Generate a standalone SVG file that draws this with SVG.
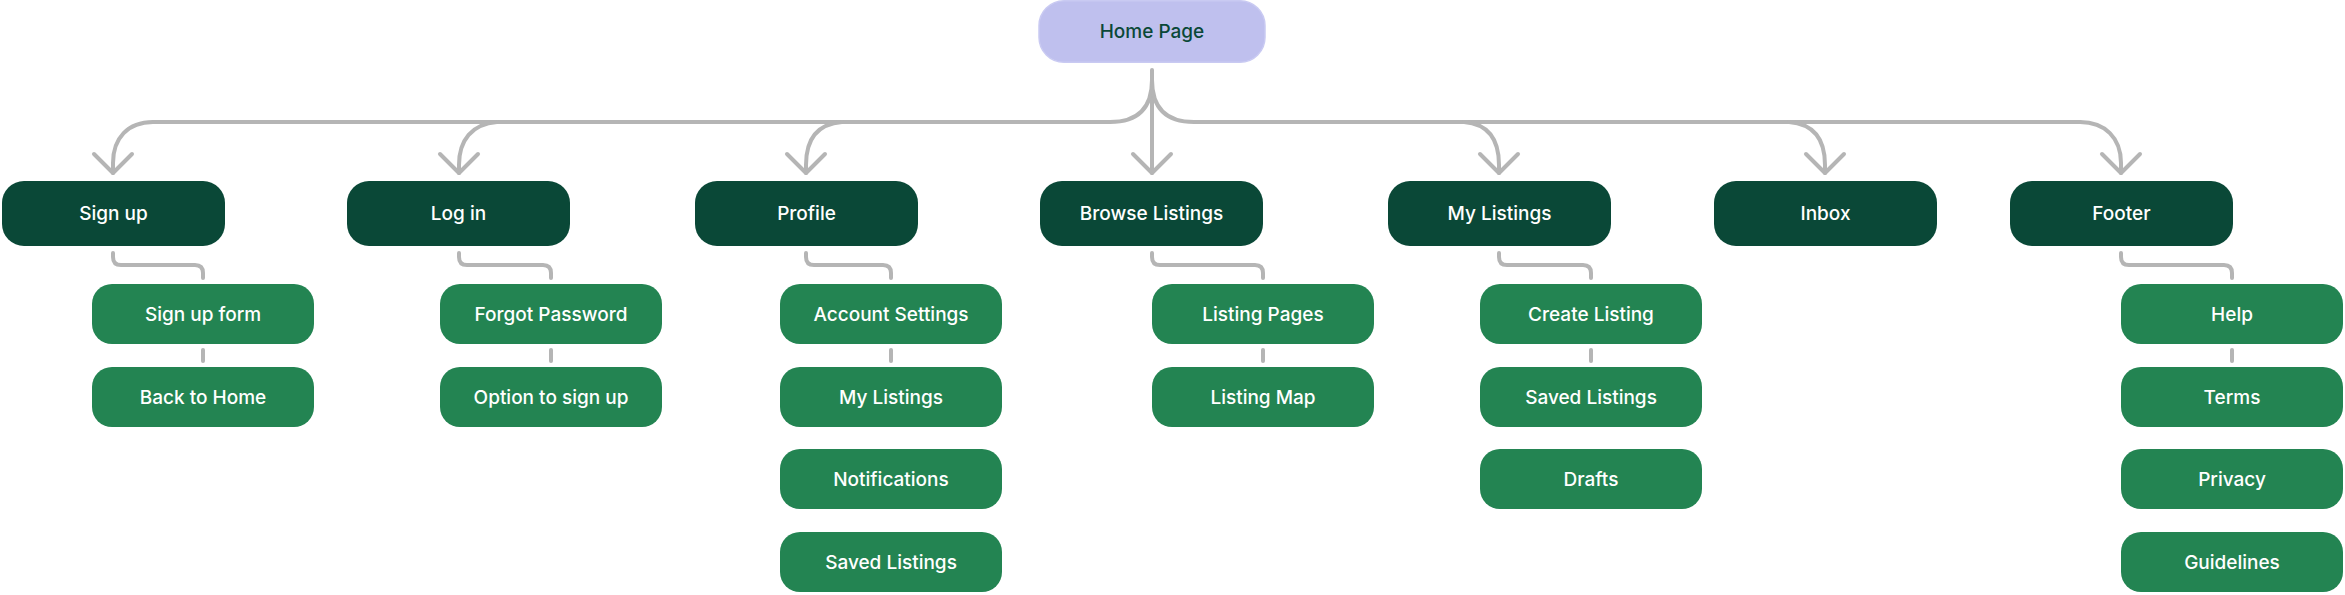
<svg xmlns="http://www.w3.org/2000/svg" width="2345" height="595" viewBox="0 0 2345 595">
<defs>
<style>
.home{fill:#bfc0ee;stroke:#c9caf2;stroke-width:1.5}
.top{fill:#0a4837}
.child{fill:#238452}
.t{font-family:Inter,"Noto Sans","Liberation Sans",sans-serif;font-size:19px;font-weight:500;text-anchor:middle;dominant-baseline:central;fill:#ffffff}
.ht{fill:#0a4837}
.c{fill:none;stroke:#b5b5b5;stroke-width:4;stroke-linecap:round;stroke-linejoin:round}
.a{fill:none;stroke:#b5b5b5;stroke-width:4;stroke-linecap:round;stroke-linejoin:round}
</style>
</defs>
<rect width="2345" height="595" fill="#ffffff"/>
<g id="connectors">
<path class="c" d="M1152,70 L1152,173"/>
<path class="c" d="M1152,80 C1152,108 1138,122 1110,122 L153,122"/>
<path class="c" d="M1152,80 C1152,108 1166,122 1194,122 L2080,122"/>
<path class="c" d="M153,122 C128,122 113,138 113,163 L113,173"/>
<path class="c" d="M497,122 C472,124 459,140 459,165 L459,173"/>
<path class="c" d="M842,122 C817,124 806,140 806,165 L806,173"/>
<path class="c" d="M1464,122 C1489,124 1499,140 1499,165 L1499,173"/>
<path class="c" d="M1789,122 C1814,124 1825,140 1825,165 L1825,173"/>
<path class="c" d="M2080,122 C2105,122 2121,138 2121,163 L2121,173"/>
<polyline class="a" points="94,154 113,173 132,154"/>
<polyline class="a" points="440,154 459,173 478,154"/>
<polyline class="a" points="787,154 806,173 825,154"/>
<polyline class="a" points="1133,154 1152,173 1171,154"/>
<polyline class="a" points="1480,154 1499,173 1518,154"/>
<polyline class="a" points="1806,154 1825,173 1844,154"/>
<polyline class="a" points="2102,154 2121,173 2140,154"/>
<path class="c" d="M113,253 L113,257 Q113,265 121,265 L195,265 Q203,265 203,273 L203,278"/>
<path class="c" d="M459,253 L459,257 Q459,265 467,265 L543,265 Q551,265 551,273 L551,278"/>
<path class="c" d="M806,253 L806,257 Q806,265 814,265 L883,265 Q891,265 891,273 L891,278"/>
<path class="c" d="M1152,253 L1152,257 Q1152,265 1160,265 L1255,265 Q1263,265 1263,273 L1263,278"/>
<path class="c" d="M1499,253 L1499,257 Q1499,265 1507,265 L1583,265 Q1591,265 1591,273 L1591,278"/>
<path class="c" d="M2121,253 L2121,257 Q2121,265 2129,265 L2224,265 Q2232,265 2232,273 L2232,278"/>
<path class="c" d="M203,350 L203,361"/>
<path class="c" d="M551,350 L551,361"/>
<path class="c" d="M891,350 L891,361"/>
<path class="c" d="M1263,350 L1263,361"/>
<path class="c" d="M1591,350 L1591,361"/>
<path class="c" d="M2232,350 L2232,361"/>
</g>
<g id="home"><rect class="home" x="1039" y="0.75" width="226" height="61.5" rx="25"/><text class="t ht" x="1152" y="31.5">Home Page</text></g>
<g id="signup"><rect class="top" x="2" y="181" width="223" height="65" rx="22"/><text class="t" x="113.5" y="213.5">Sign up</text></g>
<g id="login"><rect class="top" x="347" y="181" width="223" height="65" rx="22"/><text class="t" x="458.5" y="213.5">Log in</text></g>
<g id="profile"><rect class="top" x="695" y="181" width="223" height="65" rx="22"/><text class="t" x="806.5" y="213.5">Profile</text></g>
<g id="browse"><rect class="top" x="1040" y="181" width="223" height="65" rx="22"/><text class="t" x="1151.5" y="213.5">Browse Listings</text></g>
<g id="mylistings"><rect class="top" x="1388" y="181" width="223" height="65" rx="22"/><text class="t" x="1499.5" y="213.5">My Listings</text></g>
<g id="inbox"><rect class="top" x="1714" y="181" width="223" height="65" rx="22"/><text class="t" x="1825.5" y="213.5">Inbox</text></g>
<g id="footer"><rect class="top" x="2010" y="181" width="223" height="65" rx="22"/><text class="t" x="2121.5" y="213.5">Footer</text></g>

<g id="signupform"><rect class="child" x="92" y="284" width="222" height="60" rx="20"/><text class="t" x="203" y="314">Sign up form</text></g>
<g id="backtohome"><rect class="child" x="92" y="367" width="222" height="60" rx="20"/><text class="t" x="203" y="397">Back to Home</text></g>

<g id="forgot"><rect class="child" x="440" y="284" width="222" height="60" rx="20"/><text class="t" x="551" y="314">Forgot Password</text></g>
<g id="optsignup"><rect class="child" x="440" y="367" width="222" height="60" rx="20"/><text class="t" x="551" y="397">Option to sign up</text></g>

<g id="account"><rect class="child" x="780" y="284" width="222" height="60" rx="20"/><text class="t" x="891" y="314">Account Settings</text></g>
<g id="profmylistings"><rect class="child" x="780" y="367" width="222" height="60" rx="20"/><text class="t" x="891" y="397">My Listings</text></g>
<g id="notifications"><rect class="child" x="780" y="449" width="222" height="60" rx="20"/><text class="t" x="891" y="479">Notifications</text></g>
<g id="profsaved"><rect class="child" x="780" y="532" width="222" height="60" rx="20"/><text class="t" x="891" y="562">Saved Listings</text></g>

<g id="listingpages"><rect class="child" x="1152" y="284" width="222" height="60" rx="20"/><text class="t" x="1263" y="314">Listing Pages</text></g>
<g id="listingmap"><rect class="child" x="1152" y="367" width="222" height="60" rx="20"/><text class="t" x="1263" y="397">Listing Map</text></g>

<g id="create"><rect class="child" x="1480" y="284" width="222" height="60" rx="20"/><text class="t" x="1591" y="314">Create Listing</text></g>
<g id="saved"><rect class="child" x="1480" y="367" width="222" height="60" rx="20"/><text class="t" x="1591" y="397">Saved Listings</text></g>
<g id="drafts"><rect class="child" x="1480" y="449" width="222" height="60" rx="20"/><text class="t" x="1591" y="479">Drafts</text></g>

<g id="help"><rect class="child" x="2121" y="284" width="222" height="60" rx="20"/><text class="t" x="2232" y="314">Help</text></g>
<g id="terms"><rect class="child" x="2121" y="367" width="222" height="60" rx="20"/><text class="t" x="2232" y="397">Terms</text></g>
<g id="privacy"><rect class="child" x="2121" y="449" width="222" height="60" rx="20"/><text class="t" x="2232" y="479">Privacy</text></g>
<g id="guidelines"><rect class="child" x="2121" y="532" width="222" height="60" rx="20"/><text class="t" x="2232" y="562">Guidelines</text></g>
</svg>
